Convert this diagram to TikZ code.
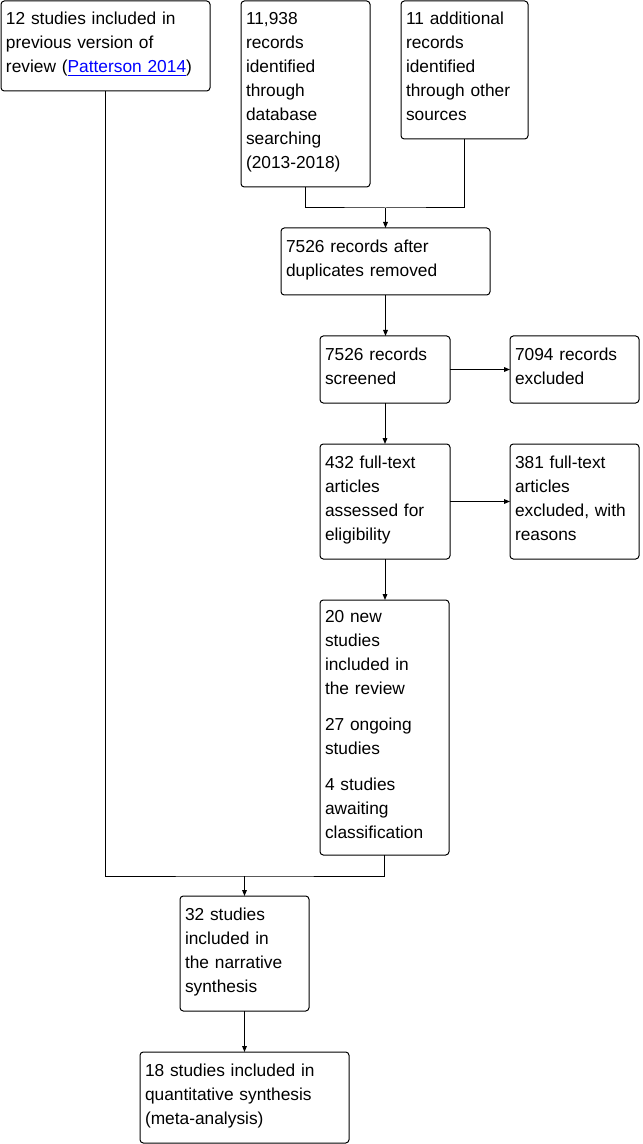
\documentclass[tikz,border=0pt]{standalone}
\usepackage{fontspec}
\setmainfont{Liberation Sans}
\usepackage{tikz}
\usetikzlibrary{arrows.meta,calc}
\usepackage{xcolor}
\newcommand{\reflink}[1]{{\color{blue}\underline{#1}}}
\newcommand{\lowstrut}{\rule[-8.4pt]{0pt}{8.4pt}}
\tikzset{
  >={Triangle[length=4.5pt,width=3.5pt]},
  box/.style={draw,rounded corners=2.5pt,anchor=north west,align=left,outer sep=0pt,
    inner xsep=3.75pt,inner ysep=0pt,line width=0.75pt,
    font=\fontsize{13}{18}\selectfont,
    execute at begin node=\strut,execute at end node=\lowstrut},
  wide/.style={box,text width=149.25pt},
  narrow/.style={box,text width=89.25pt},
  link/.style={line width=0.75pt}
}
\begin{document}
\begin{tikzpicture}[x=0.75pt,y=-0.75pt]
\useasboundingbox (0,0) rectangle (642,1144);
% sources
\node[wide,minimum height=67.5pt] (prev) at (1,1)
  {12 studies included in\\previous version of\\review (\reflink{Patterson 2014})};
\node[narrow,minimum height=139.5pt] (db) at (241,1)
  {11,938\\records\\identified\\through\\database\\searching\\(2013-2018)};
\node[box,text width=87.75pt,minimum height=103.5pt] (other) at (401,1)
  {11 additional\\records\\identified\\through other\\sources};
% screening
\node[wide,minimum height=50.25pt] (dup) at (281,228)
  {7526 records after\\duplicates removed};
\node[box,text width=90pt,minimum height=50.25pt] (scr) at (320,336)
  {7526 records\\screened};
\node[narrow,minimum height=50.25pt] (excl) at (510,336)
  {7094 records\\excluded};
\node[box,text width=90pt,minimum height=86.25pt] (full) at (320,444)
  {432 full-text\\articles\\assessed for\\eligibility};
\node[narrow,minimum height=86.25pt] (fexcl) at (510,444)
  {381 full-text\\articles\\excluded, with\\reasons};
% included
\node[narrow,minimum height=191.25pt] (new) at (320,600)
  {20 new\\studies\\included in\\the review\\[9pt]27 ongoing\\studies\\[9pt]4 studies\\awaiting\\classification};
\node[narrow,minimum height=86.25pt] (narr) at (180,896)
  {32 studies\\included in\\the narrative\\synthesis};
\node[wide,minimum height=68.25pt] (meta) at (140,1052)
  {18 studies included in\\quantitative synthesis\\(meta-analysis)};
% connectors
\coordinate (j1) at ($(dup.north)+(0,-20)$);
\coordinate (j2) at ($(narr.north)+(0,-20)$);
\draw[link] (db.south) |- (j1) -| (other.south);
\draw[link,->] (j1) -- (dup.north);
\draw[link,->] (dup.south) -- (dup.south |- scr.north);
\draw[link,->] (scr.east) -- (excl.west);
\draw[link,->] (scr.south) -- (full.north);
\draw[link,->] (full.east) -- (fexcl.west);
\draw[link,->] (full.south) -- (full.south |- new.north);
\draw[link] (prev.south) |- (j2) -| (new.south);
\draw[link,->] (j2) -- (narr.north);
\draw[link,->] (narr.south) -- (meta.north);
\end{tikzpicture}
\end{document}
